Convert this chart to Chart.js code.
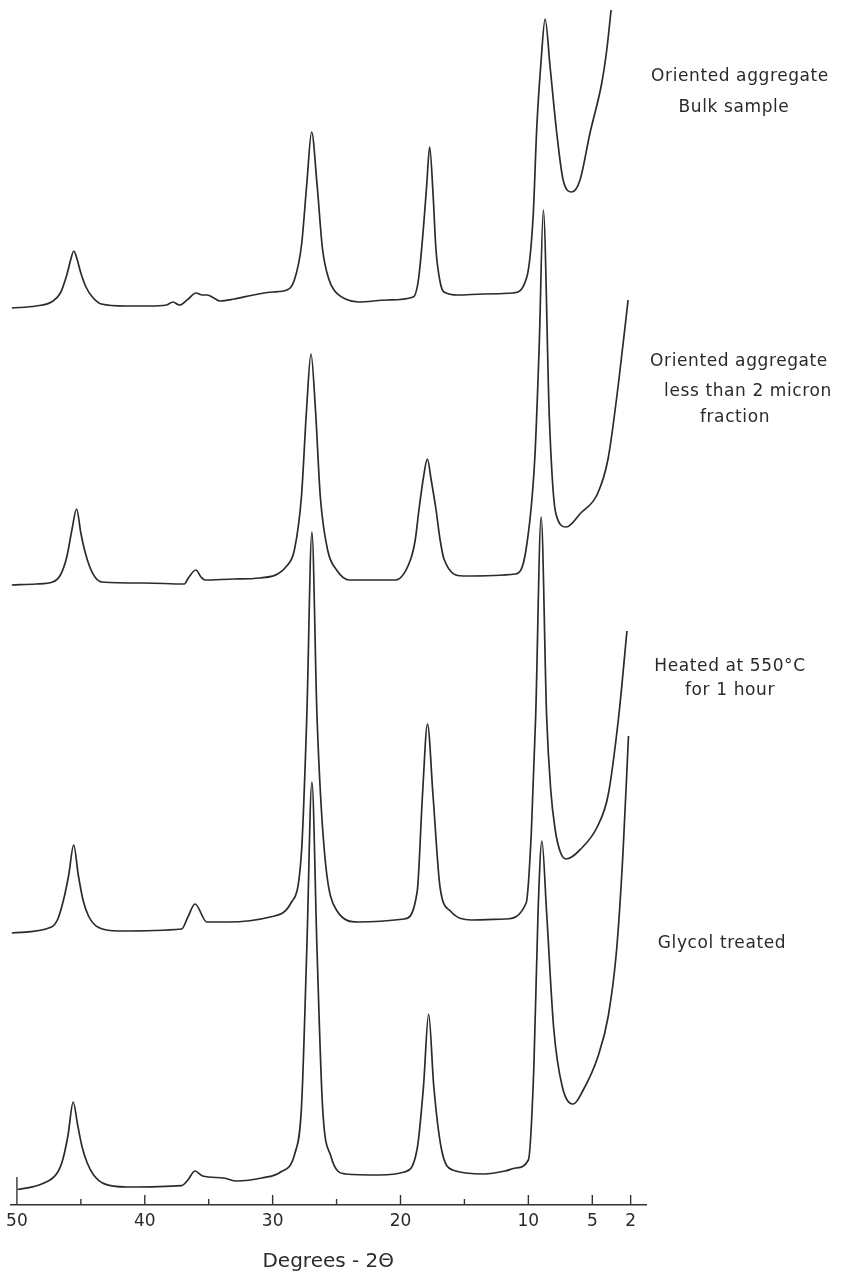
<!DOCTYPE html>
<html>
<head>
<meta charset="utf-8">
<script src="https://cdn.jsdelivr.net/npm/chart.js@4.4.0/dist/chart.umd.min.js"></script>
<style>
  body { margin: 0; background: #fff; }
  #wrap { width: 842px; height: 1278px; position: relative; }
</style>
</head>
<body>
<div id="wrap"><canvas id="xrd"></canvas></div>
<script>
// degrees 2-theta
const tickValues = [50, 45, 40, 35, 30, 25, 20, 15, 10, 5, 2];
const labeledTicks = [50, 40, 30, 20, 10, 5, 2];

// intensities are in the stacked units of the drawing (axis line = 0)
const bulkTheta = [50.4, 48.5, 47.3, 46.6, 46.1, 45.8, 45.55, 45.3, 45.0, 44.6, 44.1, 43.4, 41.5, 39.7, 38.3, 37.8, 37.3, 36.6, 36.0, 35.5, 35.1, 34.6, 34.1, 33.0, 31.5, 30.0, 28.9, 28.3, 27.74, 27.33, 26.95, 26.53, 26.1, 25.61, 25.2, 24.3, 23.3, 21.0, 19.0, 18.6, 18.22, 17.95, 17.72, 17.45, 17.23, 16.9, 16.6, 15.5, 13.5, 11.2, 10.12, 9.63, 9.34, 9.0, 8.69, 8.3, 7.78, 7.28, 6.6, 5.96, 5.18, 4.26, 3.87, 3.53];
const bulkIntensity = [89.7, 89.9, 90.3, 91.2, 93.0, 94.5, 95.4, 94.6, 93.2, 91.8, 90.8, 90.1, 89.9, 89.9, 90.0, 90.3, 90.0, 90.6, 91.2, 91.0, 91.0, 90.7, 90.4, 90.6, 91.0, 91.3, 91.5, 92.5, 96.0, 102.1, 107.3, 102.1, 95.6, 92.6, 91.5, 90.6, 90.3, 90.5, 90.8, 92.5, 97.5, 102.0, 105.8, 101.0, 95.6, 92.3, 91.3, 91.0, 91.1, 91.2, 92.8, 98.8, 107.8, 114.5, 118.6, 113.8, 107.2, 102.5, 101.3, 102.5, 107.2, 112.2, 115.5, 119.5];

const fineTheta = [50.4, 48.5, 47.2, 46.6, 46.1, 45.7, 45.33, 45.0, 44.67, 44.3, 43.9, 43.36, 40.0, 36.9, 36.6, 36.0, 35.6, 35.3, 33.0, 31.0, 28.9, 28.3, 27.75, 27.35, 27.0, 26.65, 26.27, 25.7, 25.0, 24.0, 20.4, 19.2, 18.85, 18.55, 18.2, 17.9, 17.6, 17.23, 16.9, 16.6, 15.1, 11.0, 10.2, 9.5, 9.15, 8.83, 8.35, 7.86, 7.04, 5.9, 4.6, 3.77, 2.95, 2.2];
const fineIntensity = [62.0, 62.1, 62.3, 63.0, 64.8, 67.5, 69.6, 67.2, 65.3, 63.8, 62.8, 62.3, 62.2, 62.1, 62.7, 63.5, 62.8, 62.5, 62.6, 62.7, 63.9, 65.5, 70.8, 79.5, 85.1, 79.5, 70.8, 65.5, 63.5, 62.5, 62.5, 64.6, 66.5, 69.6, 72.8, 74.6, 72.5, 69.6, 66.5, 64.6, 62.9, 63.1, 65.4, 74.6, 86.0, 99.5, 78.4, 69.2, 67.8, 69.2, 71.1, 74.6, 82.2, 90.5];

const heatedTheta = [50.4, 47.3, 46.8, 46.3, 45.95, 45.56, 45.2, 44.83, 44.4, 43.68, 42.05, 37.12, 36.63, 36.07, 35.15, 33.5, 30.2, 28.57, 27.75, 27.33, 26.93, 26.53, 25.94, 24.96, 23.31, 19.7, 18.7, 18.28, 17.89, 17.46, 16.9, 16.1, 14.46, 11.81, 10.17, 9.77, 9.43, 9.0, 8.57, 8.25, 7.9, 7.5, 7.04, 5.9, 4.58, 3.76, 2.94, 2.29];
const heatedIntensity = [27.2, 27.8, 28.6, 30.8, 33.0, 36.0, 33.0, 30.5, 28.9, 27.8, 27.4, 27.6, 28.8, 30.1, 28.3, 28.3, 28.8, 30.2, 35.2, 48.8, 67.3, 48.8, 35.2, 29.4, 28.3, 28.6, 31.3, 41.0, 48.1, 41.0, 31.7, 29.4, 28.5, 28.6, 30.2, 37.2, 48.8, 68.8, 48.8, 41.5, 37.5, 35.3, 34.6, 35.6, 37.9, 41.0, 48.8, 57.4];

const glycolTheta = [49.94, 47.97, 46.8, 46.4, 46.0, 45.6, 45.25, 44.9, 44.5, 44.0, 43.2, 41.4, 37.12, 36.63, 36.07, 35.47, 33.83, 32.83, 30.86, 29.38, 28.24, 27.74, 27.33, 26.93, 26.53, 26.1, 25.45, 24.3, 21.7, 19.7, 18.7, 18.2, 17.8, 17.4, 16.8, 15.93, 13.46, 11.81, 10.98, 10.0, 9.57, 9.24, 8.94, 8.58, 8.02, 7.36, 6.48, 5.71, 4.57, 3.75, 3.1, 2.6, 2.17];
const glycolIntensity = [1.55, 2.14, 3.3, 4.6, 7.0, 10.3, 8.0, 5.8, 4.2, 3.0, 2.14, 1.8, 1.94, 2.5, 3.4, 2.9, 2.7, 2.4, 2.7, 3.3, 5.25, 9.9, 25.5, 42.3, 25.5, 9.9, 4.9, 3.1, 3.0, 3.3, 5.6, 11.9, 19.1, 11.9, 5.6, 3.5, 3.1, 3.4, 3.7, 4.5, 13.8, 29.4, 36.4, 29.4, 17.7, 11.9, 10.1, 11.5, 14.8, 18.9, 25.5, 35.2, 46.9];

const traceNames = ['Oriented aggregate, bulk sample', 'Oriented aggregate, less than 2 micron fraction', 'Heated at 550°C for 1 hour', 'Glycol treated'];

const toPoints = (xs, ys) => xs.map((x, i) => ({ x: x, y: ys[i] }));
const ink = '#2b2b2b';

function trace(label, xs, ys) {
  return { label: label, data: toPoints(xs, ys), borderColor: ink, borderWidth: 1.7, pointRadius: 0, fill: false, cubicInterpolationMode: 'monotone' };
}

// inward tick marks and the lettering to the right of the traces
const annotate = {
  id: 'annotate',
  afterDraw(chart) {
    const ctx = chart.ctx;
    const xs = chart.scales.x;
    const base = chart.chartArea.bottom;
    ctx.save();
    ctx.strokeStyle = '#333';
    ctx.lineWidth = 1.4;
    tickValues.forEach(v => {
      const px = xs.getPixelForValue(v);
      const len = v === 50 ? 28 : (labeledTicks.includes(v) ? 10 : 6);
      ctx.beginPath();
      ctx.moveTo(px, base);
      ctx.lineTo(px, base - len);
      ctx.stroke();
    });

    const notes = [
      { text: 'Oriented aggregate', x: 740, y: 77 },
      { text: 'Bulk sample', x: 734, y: 108 },
      { text: 'Oriented aggregate', x: 739, y: 362 },
      { text: 'less than 2 micron', x: 748, y: 392 },
      { text: 'fraction', x: 735, y: 418 },
      { text: 'Heated at 550°C', x: 730, y: 667 },
      { text: 'for 1 hour', x: 730, y: 691 },
      { text: 'Glycol treated', x: 722, y: 944 }
    ];
    ctx.fillStyle = '#2a2a2a';
    ctx.font = '17px "DejaVu Sans"';
    ctx.textAlign = 'center';
    ctx.textBaseline = 'middle';
    if ('letterSpacing' in ctx) ctx.letterSpacing = '0.6px';
    notes.forEach(n => ctx.fillText(n.text, n.x, n.y));
    ctx.restore();
  }
};

new Chart(document.getElementById('xrd'), {
  type: 'line',
  data: {
    datasets: [
      trace(traceNames[0], bulkTheta, bulkIntensity),
      trace(traceNames[1], fineTheta, fineIntensity),
      trace(traceNames[2], heatedTheta, heatedIntensity),
      trace(traceNames[3], glycolTheta, glycolIntensity)
    ]
  },
  options: {
    responsive: true,
    maintainAspectRatio: false,
    animation: false,
    layout: { padding: { left: 10, right: 196, top: 0, bottom: 0 } },
    plugins: { legend: { display: false }, tooltip: { enabled: false } },
    scales: {
      x: {
        type: 'linear',
        reverse: true,
        min: 0.8,
        max: 50.5,
        afterBuildTicks: s => { s.ticks = tickValues.map(v => ({ value: v })); },
        afterFit: s => { s.height = 73; },
        grid: { display: false, drawTicks: false },
        border: { display: true, color: '#333', width: 1.5 },
        ticks: {
          autoSkip: false,
          maxRotation: 0,
          padding: 6,
          color: '#2a2a2a',
          font: { family: '"DejaVu Sans"', size: 17 },
          callback: v => labeledTicks.includes(v) ? String(v) : ''
        },
        title: {
          display: true,
          text: 'Degrees - 2Θ',
          color: '#2a2a2a',
          font: { family: '"DejaVu Sans"', size: 20 },
          padding: { top: 0, bottom: 4 }
        }
      },
      y: { display: false, min: 0, max: 120.5 }
    }
  },
  plugins: [annotate]
});
</script>
</body>
</html>
